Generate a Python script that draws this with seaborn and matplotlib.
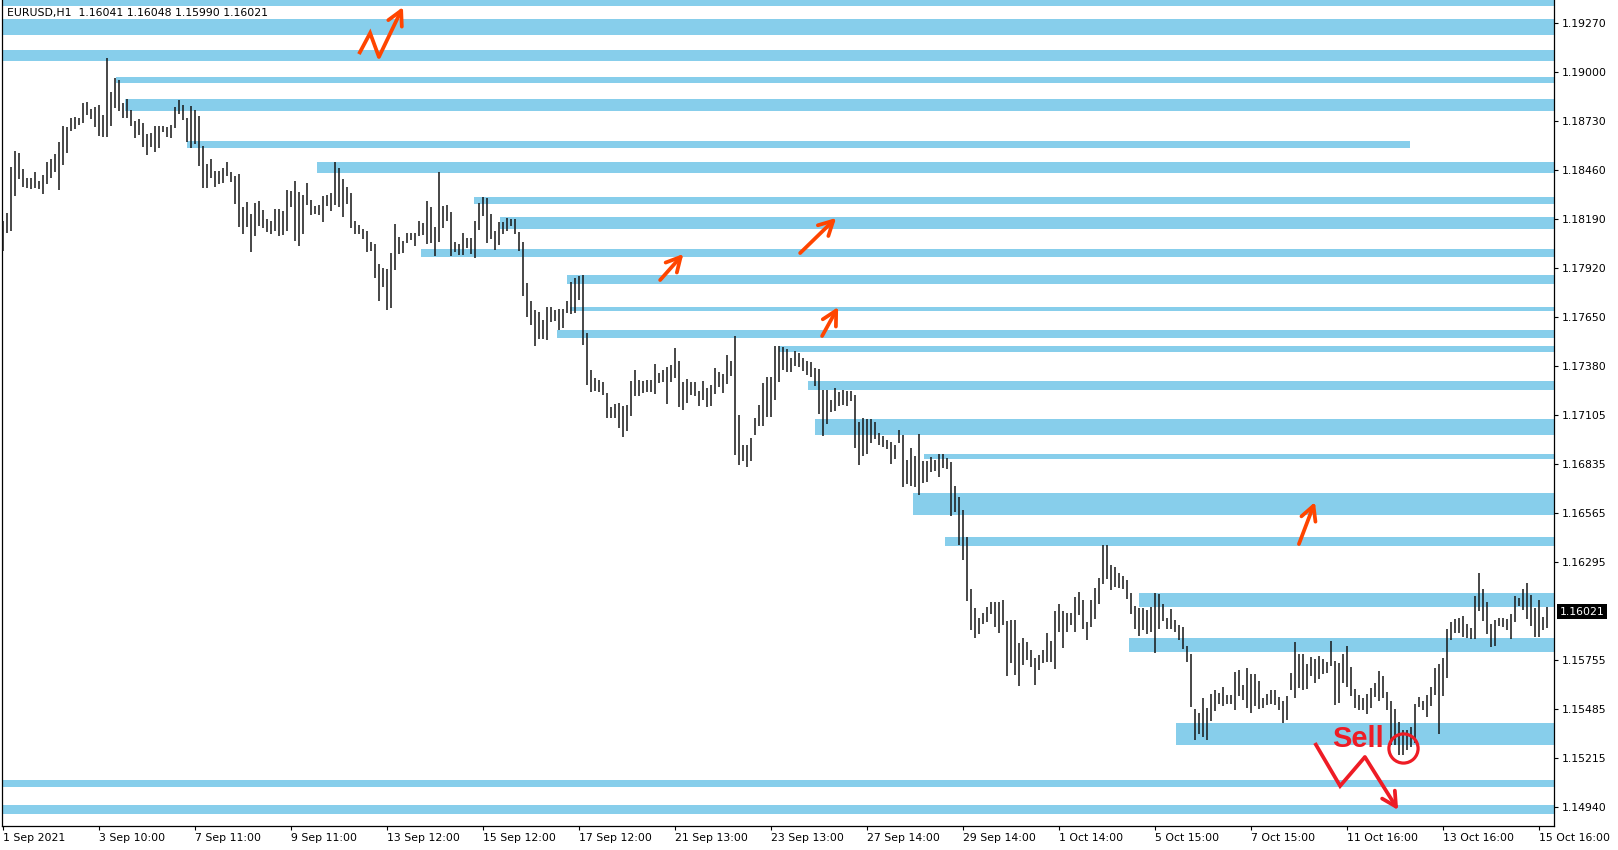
import numpy as np
import pandas as pd
import matplotlib
matplotlib.use("Agg")
import matplotlib.pyplot as plt
import seaborn as sns

# ---------------- data (EURUSD, bars, 2 hours per bar) -------------
highs = [
1.18178,1.18223,1.18477,1.18565,1.18554,1.18466,1.18416,1.18416,1.18449,1.18399,
1.18432,1.18504,1.18521,1.18548,1.18615,1.18703,1.18698,1.18747,1.18753,1.18747,
1.18830,1.18836,1.18797,1.18808,1.18819,1.18764,1.19077,1.18891,1.18968,1.18957,
1.18830,1.18852,1.18791,1.18731,1.18742,1.18720,1.18659,1.18664,1.18703,1.18703,
1.18703,1.18698,1.18709,1.18808,1.18847,1.18819,1.18747,1.18814,1.18791,1.18758,
1.18593,1.18493,1.18521,1.18454,1.18454,1.18471,1.18504,1.18449,1.18427,1.18438,
1.18256,1.18283,1.18217,1.18278,1.18289,1.18239,1.18189,1.18178,1.18245,1.18245,
1.18234,1.18350,1.18344,1.18399,1.18339,1.18322,1.18388,1.18294,1.18261,1.18266,
1.18316,1.18322,1.18333,1.18504,1.18471,1.18410,1.18366,1.18333,1.18178,1.18156,
1.18134,1.18123,1.18062,1.18051,1.17941,1.17919,1.17913,1.18001,1.18162,1.18090,
1.18068,1.18112,1.18112,1.18112,1.18178,1.18167,1.18289,1.18255,1.18145,1.18449,
1.18261,1.18266,1.18228,1.18062,1.18051,1.18112,1.18084,1.18084,1.18178,1.18278,
1.18311,1.18305,1.18217,1.18123,1.18173,1.18173,1.18195,1.18189,1.18189,1.18117,
1.18062,1.17836,1.17736,1.17687,1.17676,1.17631,1.17703,1.17703,1.17687,1.17692,
1.17692,1.17736,1.17841,1.17863,1.17874,1.17880,1.17560,1.17355,1.17311,1.17300,
1.17289,1.17228,1.17151,1.17167,1.17173,1.17156,1.17162,1.17294,1.17355,1.17300,
1.17294,1.17300,1.17300,1.17388,1.17338,1.17355,1.17371,1.17383,1.17476,1.17405,
1.17289,1.17305,1.17289,1.17289,1.17239,1.17294,1.17255,1.17272,1.17366,1.17344,
1.17333,1.17438,1.17405,1.17543,1.17106,1.16941,1.16941,1.16979,1.17090,1.17162,
1.17283,1.17316,1.17316,1.17487,1.17487,1.17482,1.17471,1.17421,1.17460,1.17449,
1.17421,1.17405,1.17399,1.17366,1.17360,1.17244,1.17244,1.17189,1.17255,1.17233,
1.17244,1.17239,1.17239,1.17217,1.17068,1.17090,1.17084,1.17084,1.17068,1.17007,
1.16990,1.16968,1.16957,1.16941,1.17024,1.16996,1.16858,1.16924,1.16880,1.17001,
1.16852,1.16852,1.16875,1.16858,1.16891,1.16891,1.16869,1.16847,1.16715,1.16654,
1.16582,1.16433,1.16146,1.16041,1.15986,1.16013,1.16046,1.16074,1.16074,1.16074,
1.16085,1.15969,1.15975,1.15975,1.15848,1.15875,1.15853,1.15809,1.15765,1.15781,
1.15809,1.15903,1.15859,1.16024,1.16063,1.16024,1.16013,1.16013,1.16102,1.16129,
1.16085,1.15964,1.16085,1.16151,1.16207,1.16389,1.16389,1.16278,1.16267,1.16234,
1.16218,1.16196,1.16124,1.16052,1.16041,1.16041,1.16030,1.16046,1.16124,1.16118,
1.16063,1.15986,1.16035,1.15975,1.15947,1.15936,1.15831,1.15787,1.15483,1.15461,
1.15544,1.15489,1.15566,1.15588,1.15572,1.15605,1.15560,1.15560,1.15687,1.15698,
1.15615,1.15709,1.15676,1.15676,1.15638,1.15544,1.15566,1.15588,1.15588,1.15549,
1.15527,1.15555,1.15682,1.15853,1.15787,1.15787,1.15731,1.15770,1.15759,1.15776,
1.15759,1.15742,1.15858,1.15748,1.15737,1.15787,1.15831,1.15715,1.15593,1.15560,
1.15544,1.15566,1.15599,1.15626,1.15693,1.15665,1.15577,1.15527,1.15483,1.15411,
1.15367,1.15367,1.15385,1.15510,1.15549,1.15527,1.15560,1.15604,1.15709,1.15731,
1.15765,1.15925,1.15963,1.15980,1.15985,1.15997,1.15952,1.15930,1.16107,1.16234,
1.16146,1.16074,1.15952,1.15975,1.15985,1.15985,1.15980,1.16008,1.16107,1.16096,
1.16146,1.16179,1.16113,1.16041,1.16085,1.15991,1.16046]
lows = [
1.18014,1.18114,1.18125,1.18318,1.18412,1.18366,1.18362,1.18357,1.18362,1.18355,
1.18329,1.18385,1.18418,1.18451,1.18351,1.18490,1.18556,1.18677,1.18688,1.18710,
1.18721,1.18762,1.18743,1.18699,1.18650,1.18644,1.18644,1.18705,1.18804,1.18788,
1.18747,1.18747,1.18705,1.18639,1.18655,1.18589,1.18545,1.18589,1.18561,1.18583,
1.18670,1.18642,1.18637,1.18692,1.18771,1.18738,1.18617,1.18583,1.18605,1.18482,
1.18362,1.18362,1.18416,1.18368,1.18383,1.18390,1.18427,1.18396,1.18274,1.18145,
1.18107,1.18145,1.18009,1.18097,1.18153,1.18142,1.18119,1.18108,1.18125,1.18097,
1.18103,1.18125,1.18254,1.18070,1.18042,1.18108,1.18269,1.18209,1.18217,1.18211,
1.18174,1.18261,1.18235,1.18265,1.18257,1.18202,1.18274,1.18141,1.18108,1.18108,
1.18077,1.18009,1.18012,1.17865,1.17738,1.17815,1.17688,1.17699,1.17909,1.17994,
1.18003,1.18057,1.18071,1.18042,1.18093,1.18103,1.18053,1.18058,1.17987,1.18064,
1.18141,1.18176,1.17987,1.18005,1.17992,1.17992,1.18031,1.17998,1.17976,1.18128,
1.18208,1.18058,1.18081,1.18020,1.18047,1.18106,1.18123,1.18151,1.18106,1.18014,
1.17766,1.17650,1.17604,1.17490,1.17526,1.17526,1.17521,1.17620,1.17626,1.17576,
1.17587,1.17670,1.17666,1.17672,1.17744,1.17495,1.17272,1.17234,1.17241,1.17234,
1.17217,1.17090,1.17088,1.17088,1.17035,1.16985,1.17018,1.17101,1.17209,1.17209,
1.17230,1.17232,1.17233,1.17222,1.17283,1.17289,1.17169,1.17289,1.17311,1.17151,
1.17134,1.17173,1.17217,1.17211,1.17156,1.17189,1.17151,1.17158,1.17222,1.17261,
1.17230,1.17278,1.17322,1.16887,1.16830,1.16854,1.16819,1.16854,1.16996,1.17046,
1.17046,1.17097,1.17097,1.17189,1.17289,1.17355,1.17342,1.17342,1.17377,1.17373,
1.17348,1.17327,1.17316,1.17268,1.17112,1.16990,1.17057,1.17123,1.17128,1.17156,
1.17162,1.17156,1.17186,1.16924,1.16830,1.16880,1.16891,1.16952,1.16974,1.16941,
1.16928,1.16919,1.16836,1.16863,1.16952,1.16711,1.16725,1.16714,1.16709,1.16665,
1.16729,1.16736,1.16792,1.16798,1.16764,1.16814,1.16809,1.16549,1.16571,1.16389,
1.16306,1.16080,1.15919,1.15875,1.15897,1.15953,1.15964,1.16008,1.15936,1.15905,
1.15947,1.15665,1.15735,1.15671,1.15610,1.15726,1.15754,1.15715,1.15616,1.15699,
1.15737,1.15743,1.15743,1.15706,1.15908,1.15820,1.15908,1.15947,1.15908,1.16002,
1.15925,1.15864,1.15936,1.15980,1.16063,1.16174,1.16201,1.16140,1.16157,1.16151,
1.16146,1.16091,1.16008,1.15925,1.15886,1.15919,1.15897,1.15908,1.15792,1.15925,
1.15969,1.15925,1.15925,1.15908,1.15864,1.15814,1.15743,1.15494,1.15312,1.15345,
1.15330,1.15312,1.15417,1.15474,1.15511,1.15500,1.15511,1.15511,1.15478,1.15555,
1.15533,1.15488,1.15461,1.15499,1.15483,1.15488,1.15505,1.15510,1.15505,1.15477,
1.15406,1.15422,1.15588,1.15544,1.15599,1.15588,1.15593,1.15665,1.15626,1.15649,
1.15676,1.15684,1.15720,1.15505,1.15516,1.15626,1.15604,1.15555,1.15488,1.15477,
1.15477,1.15455,1.15488,1.15549,1.15527,1.15544,1.15477,1.15284,1.15284,1.15229,
1.15229,1.15256,1.15275,1.15293,1.15496,1.15477,1.15438,1.15499,1.15560,1.15345,
1.15555,1.15654,1.15864,1.15903,1.15903,1.15882,1.15877,1.15870,1.15870,1.16024,
1.15969,1.15897,1.15825,1.15831,1.15941,1.15938,1.15919,1.15871,1.15963,1.16052,
1.16030,1.15980,1.15941,1.15879,1.15879,1.15919,1.15930]

x_labels = ["1 Sep 2021", "3 Sep 10:00", "7 Sep 11:00", "9 Sep 11:00", "13 Sep 12:00",
            "15 Sep 12:00", "17 Sep 12:00", "21 Sep 13:00", "23 Sep 13:00", "27 Sep 14:00",
            "29 Sep 14:00", "1 Oct 14:00", "5 Oct 15:00", "7 Oct 15:00", "11 Oct 16:00",
            "13 Oct 16:00", "15 Oct 16:00"]
x_label_bars = [0, 24, 48, 72, 96, 120, 144, 168, 192, 216, 240, 264, 288, 312, 336, 360, 384]
y_ticks = [1.19270, 1.19000, 1.18730, 1.18460, 1.18190, 1.17920, 1.17650, 1.17380, 1.17105,
           1.16835, 1.16565, 1.16295, 1.15755, 1.15485, 1.15215, 1.14940]
last_price = 1.16021
title = "EURUSD,H1  1.16041 1.16048 1.15990 1.16021"

# supply / demand zones (price top, price bottom, start bar, end bar)
zone_top = [1.19450, 1.19294, 1.19123, 1.18975, 1.18852, 1.18620, 1.18502, 1.18311,
            1.18200, 1.18024, 1.17880, 1.17705, 1.17576, 1.17489, 1.17295, 1.17085,
            1.16893, 1.16676, 1.16433, 1.16124, 1.15875, 1.15404, 1.15091, 1.14953]
zone_bottom = [1.19367, 1.19207, 1.19064, 1.18942, 1.18787, 1.18581, 1.18445, 1.18274,
               1.18136, 1.17981, 1.17832, 1.17683, 1.17534, 1.17456, 1.17247, 1.16998,
               1.16865, 1.16556, 1.16385, 1.16045, 1.15796, 1.15282, 1.15054, 1.14905]
zone_start = [-5, -5, -5, 28.2, 30.4, 45.9, 78.4, 117.7, 124.2, 104.4, 140.9, 141.7,
              138.4, 193.9, 201.2, 202.9, 230.2, 227.4, 235.4, 283.9, 281.4, 293.2, -5, -5]
zone_end = [400, 400, 400, 400, 400, 351.7, 400, 400, 400, 400, 400, 400,
            400, 400, 400, 400, 400, 400, 400, 400, 400, 400, 400, 400]

# hand-drawn arrows (bar, price)
orange_arrows = [
    ([88.9, 91.7, 93.9, 99.9], [1.19100, 1.19216, 1.19084, 1.19360]),
    ([164.2, 170.0], [1.17852, 1.17996]),
    ([199.2, 208.2], [1.18001, 1.18195]),
    ([204.7, 208.7], [1.17543, 1.17703]),
    ([323.9, 327.9], [1.16394, 1.16626]),
]
red_arrow = ([327.9, 334.2, 340.4, 348.7], [1.15295, 1.15058, 1.15218, 1.14925])
sell_text_pos = (332.2, 1.15273)
sell_circle = (349.9, 1.15268)

# ---------------- drawing ----------------
sns.set_theme(style="white")
plt.rcParams['font.family'] = ['DejaVu Sans']

df = pd.DataFrame({"bar": np.arange(len(highs)), "high": highs, "low": lows})

W, H = 1618, 850
fig = plt.figure(figsize=(W / 100, H / 100), dpi=100)
ax = fig.add_axes([2 / W, 1 - 826 / H, 1552 / W, 826 / H])
ax.set_facecolor("white")

zone_color = "#87CEEB"
for t, b, s, e in zip(zone_top, zone_bottom, zone_start, zone_end):
    ax.fill_between([s, e], [b, b], [t, t], color=zone_color, lw=0, zorder=1)

ax.vlines(df["bar"], df["low"], df["high"], color="#151515", linewidth=1.1, zorder=3)

orange = "#FF4500"
red = "#EE1C25"


def draw_arrow(xs, ys, color):
    if len(xs) > 2:
        ax.plot(xs[:-1], ys[:-1], color=color, lw=2.7, solid_joinstyle="miter",
                solid_capstyle="butt", zorder=5)
    ax.annotate("", xy=(xs[-1], ys[-1]), xytext=(xs[-2], ys[-2]),
                arrowprops=dict(arrowstyle="->,head_length=0.85,head_width=0.45",
                                color=color, lw=2.7, shrinkA=0, shrinkB=0),
                zorder=5)


for xs, ys in orange_arrows:
    draw_arrow(xs, ys, orange)
draw_arrow(*red_arrow, red)

ax.text(sell_text_pos[0], sell_text_pos[1], "Sell", fontsize=21, fontweight="bold",
        family=["Liberation Sans", "DejaVu Sans"], color=red, ha="left", va="baseline",
        zorder=6)
ax.plot([sell_circle[0]], [sell_circle[1]], marker="o", ms=21, mfc="none", mec=red,
        mew=2.3, zorder=6)

ax.set_xlim(-0.33, 387.67)
ax.set_ylim(1.148367, 1.193987)

ax.yaxis.tick_right()
ax.set_yticks(y_ticks)
ax.set_yticklabels([f"{v:.5f}" for v in y_ticks])
ax.set_xticks(x_label_bars)
ax.set_xticklabels(x_labels, ha="left")
ax.tick_params(axis="y", which="both", direction="out", length=3, width=0.8, pad=2.5,
               labelsize=7.8, colors="black", right=True, left=False)
ax.tick_params(axis="x", which="both", direction="out", length=3, width=0.8, pad=2,
               labelsize=7.8, colors="black", bottom=True)
ax.grid(False)
for side in ["left", "right", "bottom"]:
    ax.spines[side].set_visible(True)
    ax.spines[side].set_color("black")
    ax.spines[side].set_linewidth(0.9)
ax.spines["top"].set_visible(False)
ax.set_xlabel("")
ax.set_ylabel("")

ax.text(1.0035, last_price, "1.16021", transform=ax.get_yaxis_transform(), ha="left",
        va="center", color="white", fontsize=7.8, zorder=10, clip_on=False,
        bbox=dict(boxstyle="square,pad=0.22", fc="black", ec="none"))

fig.text(7 / W, 1 - 13 / H, title, fontsize=7.8, ha="left", va="center", color="black")

fig.savefig("out.png", dpi=100, facecolor="white")
